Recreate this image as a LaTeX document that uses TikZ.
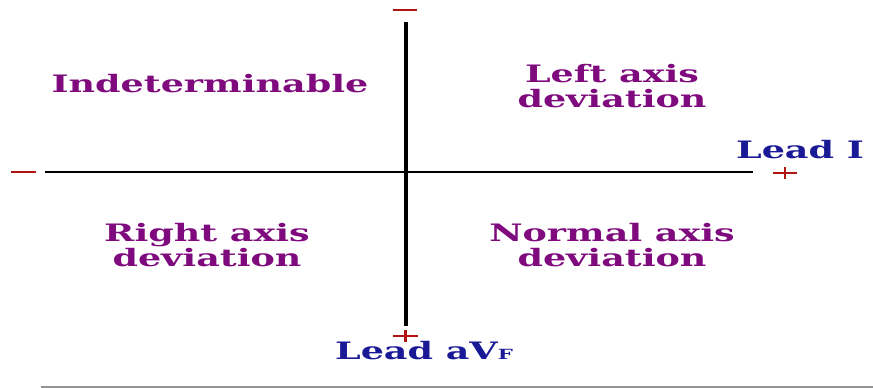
\documentclass[tikz,border=0pt]{standalone}
\usepackage{fontspec}
\newfontfamily\quadfont[FakeStretch=1.52]{DejaVu Serif}
\definecolor{axpurple}{HTML}{7E0A7E}
\definecolor{leadblue}{HTML}{1A1A96}
\definecolor{signred}{HTML}{B01515}
\begin{document}
\begin{tikzpicture}[x=1pt,y=-1pt,
  region/.style={font=\quadfont\bfseries\fontsize{24}{25}\selectfont, text=axpurple, align=center, inner sep=0pt},
  leadlabel/.style={font=\quadfont\bfseries\fontsize{24}{25}\selectfont, text=leadblue, inner sep=0pt},
  signmark/.style={draw=signred, line width=2.6pt},
  axisline/.style={draw=black}
]
\useasboundingbox (0,0) rectangle (873,388);

% axes
\coordinate (vtop) at (406,22);
\coordinate (vbot) at (406,326);
\coordinate (hleft) at (45,172);
\coordinate (hright) at (753,172);
\draw[axisline, line width=4pt] (vtop) -- (vbot);
\draw[axisline, line width=2.4pt] (hleft) -- (hright);

% polarity signs
\draw[signmark] (393,10) -- (417,10);
\draw[signmark] (11,172) -- (36,172);
\draw[signmark] (773,173) -- (797,173);
\draw[signmark] (785,167) -- (785,179);
\draw[signmark] (393,336) -- (418,336);
\draw[signmark] (405.5,330) -- (405.5,342);

% lead labels
\node[leadlabel] (leadI) at (800,150) {Lead I};
\node[leadlabel] (leadaVF) at (424,351) {Lead aV{\fontsize{14}{14}\selectfont F}};

% quadrant labels
\node[region] (indet) at (210,84) {Indeterminable};
\node[region] (lad) at (612,86) {Left axis\\deviation};
\node[region] (rad) at (207,245) {Right axis\\deviation};
\node[region] (nad) at (612,245) {Normal axis\\deviation};

% rule along the foot
\coordinate (ruleL) at (41,387);
\coordinate (ruleR) at (873,387);
\draw[draw=gray!85, line width=2.5pt] (ruleL) -- (ruleR);
\end{tikzpicture}
\end{document}
